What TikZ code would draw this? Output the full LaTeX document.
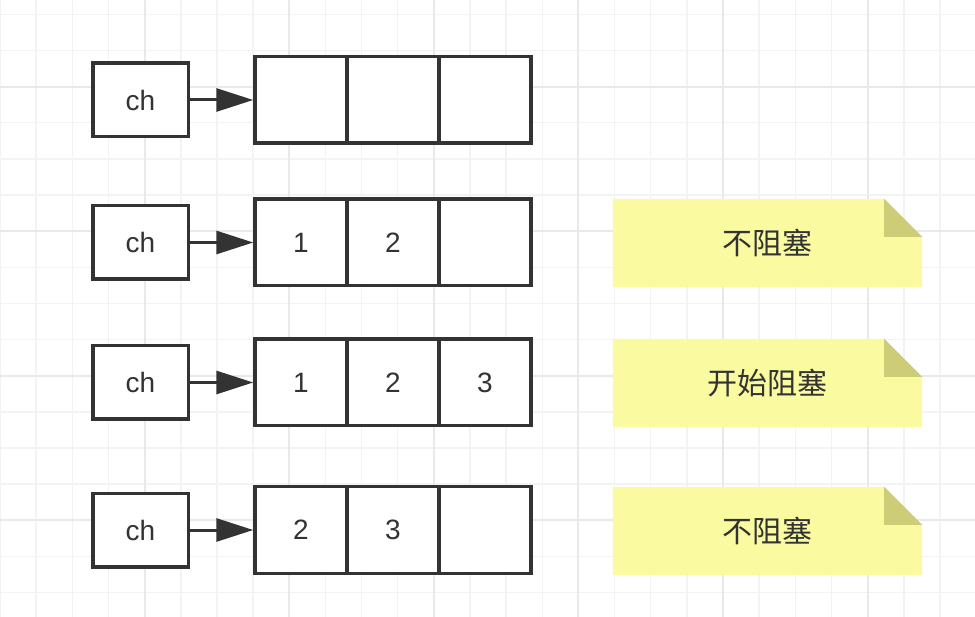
\documentclass[tikz,border=0pt]{standalone}
\usepackage{fontspec}
\setmainfont{Liberation Sans}
\newfontfamily\cjk{Noto Sans CJK SC}
\usetikzlibrary{arrows.meta,positioning,backgrounds}
\definecolor{ink}{HTML}{333333}
\definecolor{notebg}{HTML}{FAFAA0}
\definecolor{notefold}{HTML}{CDCD78}
\definecolor{gridlight}{HTML}{F3F3F3}
\definecolor{gridmid}{HTML}{E9E9E9}
\tikzset{
    chbox/.style={rectangle, draw=ink, fill=white, line width=3.5pt, minimum width=95.5pt, minimum height=73.5pt, text=ink, font=\fontsize{28}{32}\selectfont},
    cell/.style={rectangle, draw=ink, fill=white, line width=3.5pt, minimum width=92pt, minimum height=86.5pt, text=ink, font=\fontsize{28}{32}\selectfont},
    link/.style={draw=ink, line width=3pt, -{Triangle[length=37pt, width=23pt]}},
    note/.style={rectangle, minimum width=309pt, minimum height=88pt, text=ink, font=\cjk\fontsize{30}{34}\selectfont},
    notefill/.style={fill=notebg},
    gridminor/.style={draw=gridlight, line width=1.5pt},
    gridmajor/.style={draw=gridmid, line width=2pt}
}

\begin{document}
\begin{tikzpicture}[x=1pt, y=-1pt]
    \useasboundingbox (0,0) rectangle (975,617);
    % grid
    \begin{scope}[on background layer]
        \fill[white] (0,0) rectangle (975,617);
        \foreach \i in {0,...,26} \draw[gridminor] (\i*36.15,0) -- (\i*36.15,617);
        \foreach \j in {0,...,16} \draw[gridminor] (0,14.3+\j*36.15) -- (975,14.3+\j*36.15);
        \foreach \i in {4,8,...,24} \draw[gridmajor] (\i*36.15,0) -- (\i*36.15,617);
        \foreach \j in {2,6,10,14} \draw[gridmajor] (0,14.3+\j*36.15) -- (975,14.3+\j*36.15);
    \end{scope}

    % Channels
    \node[chbox] (ch1) at (140.5,100) {ch};
    \node[chbox] (ch2) at (140.5,242.5) {ch};
    \node[chbox] (ch3) at (140.5,382.5) {ch};
    \node[chbox] (ch4) at (140.5,530) {ch};

    % Buffers
    \node[cell] (q1a) at (301,100) {};
    \node[cell, right=-3.5pt of q1a] (q1b) {};
    \node[cell, right=-3.5pt of q1b] (q1c) {};

    \node[cell] (q2a) at (301,242.5) {1};
    \node[cell, right=-3.5pt of q2a] (q2b) {2};
    \node[cell, right=-3.5pt of q2b] (q2c) {};

    \node[cell] (q3a) at (301,382.5) {1};
    \node[cell, right=-3.5pt of q3a] (q3b) {2};
    \node[cell, right=-3.5pt of q3b] (q3c) {3};

    \node[cell] (q4a) at (301,530) {2};
    \node[cell, right=-3.5pt of q4a] (q4b) {3};
    \node[cell, right=-3.5pt of q4b] (q4c) {};

    % Links
    \draw[link] (ch1) -- (q1a);
    \draw[link] (ch2) -- (q2a);
    \draw[link] (ch3) -- (q3a);
    \draw[link] (ch4) -- (q4a);

    % Notes
    \node[note] (n2) at (767.5,243) {不阻塞};
    \node[note] (n3) at (767.5,383) {开始阻塞};
    \node[note] (n4) at (767.5,531) {不阻塞};
    \begin{scope}[on background layer]
        \foreach \n in {n2,n3,n4} {
            \fill[notefill] (\n.south west) -- (\n.north west) -- ([xshift=-38pt]\n.north east)
                -- ([yshift=-38pt]\n.north east) -- (\n.south east) -- cycle;
            \fill[notefold] ([xshift=-38pt]\n.north east) -- ([xshift=-38pt, yshift=-38pt]\n.north east)
                -- ([yshift=-38pt]\n.north east) -- cycle;
        }
    \end{scope}
\end{tikzpicture}
\end{document}
